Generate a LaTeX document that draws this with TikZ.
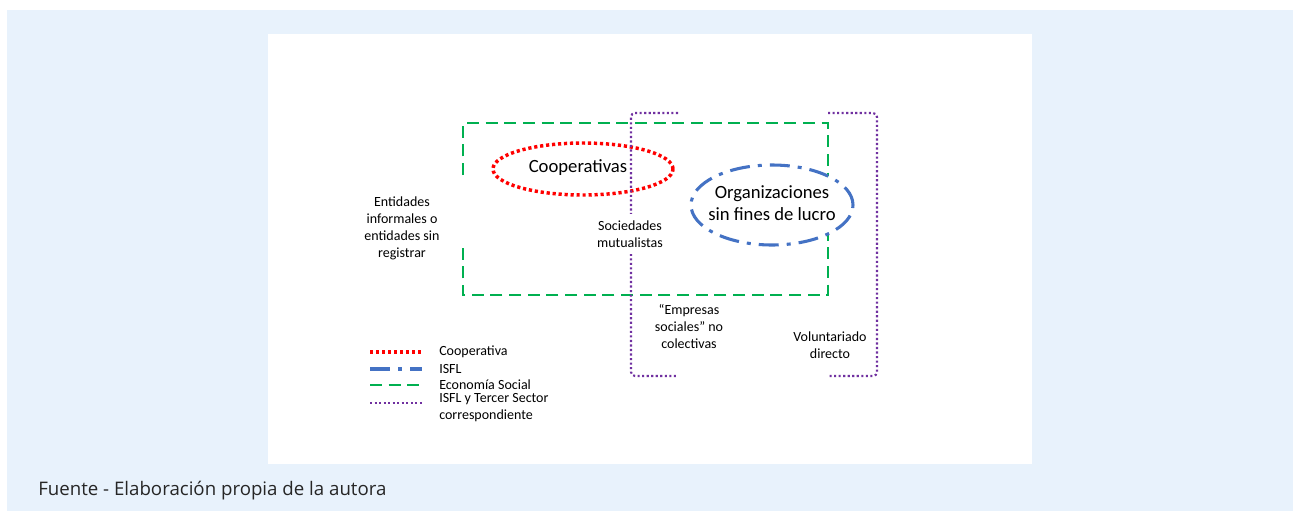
\documentclass[tikz,border=0pt]{standalone}
\usepackage{fontspec}
\setmainfont{Carlito}
\newfontfamily\captionfont{Open Sans}
\usetikzlibrary{positioning,shapes.geometric}
\definecolor{bgblue}{HTML}{E8F2FC}
\definecolor{coopred}{HTML}{FF0000}
\definecolor{isflblue}{HTML}{4472C4}
\definecolor{econgreen}{HTML}{00B050}
\definecolor{tspurple}{HTML}{7030A0}
\tikzset{
  coop/.style={draw=coopred, line width=2.6pt, dash pattern=on 2.4pt off 2.1pt},
  isfl/.style={draw=isflblue, line width=2.3pt, dash pattern=on 15pt off 6pt on 3pt off 6pt},
  econ/.style={draw=econgreen, line width=1.9pt, dash pattern=on 9pt off 5pt},
  tercer/.style={draw=tspurple, line width=1.6pt, dash pattern=on 1.6pt off 1.8pt, rounded corners=3pt},
  lbl/.style={align=center, inner sep=1pt, font=\fontsize{10.5}{12.75}\selectfont},
  big/.style={align=center, inner sep=0pt, font=\fontsize{14}{17}\selectfont},
  lgd/.style={align=left, inner sep=0pt, font=\fontsize{10.5}{12.75}\selectfont}
}
\begin{document}
\begin{tikzpicture}[x=0.75pt, y=-0.75pt]
  \useasboundingbox (0,0) rectangle (1293,511);
  \fill[bgblue] (7,10) rectangle (1293,511);
  \fill[white] (268,34) rectangle (1032,464);

  % economia social
  \draw[econ] (463,175) -- (463,123) -- (828,123) -- (828,295) -- (463,295) -- (463,243);

  % cooperativas
  \node (coop) [coop, ellipse, minimum width=135pt, minimum height=39pt, inner sep=0pt] at (583,169) {};
  \node (cooptxt) [big] at (578,168) {Cooperativas};

  % ISFL
  \node (isfl) [isfl, fill=white, ellipse, minimum width=121.5pt, minimum height=60pt, inner sep=0pt] at (772,205) {};
  \node (isfltxt) [big] at (772,203) {Organizaciones\\sin fines de lucro};

  % tercer sector
  \draw[tercer] (678,113) -- (631,113) -- (631,376) -- (678,376);
  \draw[tercer] (828,113) -- (877,113) -- (877,376) -- (828,376);

  \node (entid) [lbl] at (402,228) {Entidades\\informales o\\entidades sin\\registrar};
  \node (mutual) [lbl, fill=white, inner ysep=5pt] at (630,234) {Sociedades\\mutualistas};
  \node (empres) [lbl] at (689,326) {“Empresas\\sociales” no\\colectivas};
  \node (volunt) [lbl] at (830,345) {Voluntariado\\directo};

  % leyenda
  \coordinate (l1a) at (370,352); \coordinate (l1b) at (422,352);
  \coordinate (l2a) at (370,369); \coordinate (l2b) at (422,369);
  \coordinate (l3a) at (370,385); \coordinate (l3b) at (422,385);
  \coordinate (l4a) at (370,403); \coordinate (l4b) at (422,403);
  \draw[coop] (l1a) -- (l1b);
  \draw[isfl] (l2a) -- (l2b);
  \draw[econ] (l3a) -- (l3b);
  \draw[tercer] (l4a) -- (l4b);
  \node (t1) [lgd, right=12.75pt of l1b] {Cooperativa};
  \node (t2) [lgd, right=12.75pt of l2b] {ISFL};
  \node (t3) [lgd, right=12.75pt of l3b] {Economía Social};
  \node (t4) [lgd, anchor=north west] at ([yshift=-2pt]t3.south west) {ISFL y Tercer Sector\\correspondiente};

  \node (fuente) [anchor=west, inner sep=0pt, font=\captionfont\fontsize{14}{16}\selectfont, text=black!85] at (38,491) {Fuente - Elaboración propia de la autora};
\end{tikzpicture}
\end{document}
